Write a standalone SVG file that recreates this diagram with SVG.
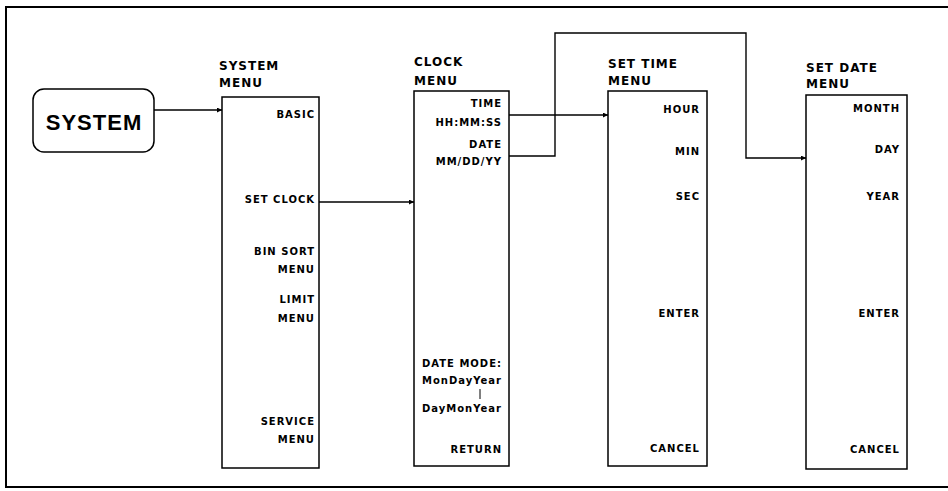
<svg xmlns="http://www.w3.org/2000/svg" width="948" height="491" viewBox="0 0 948 491">
<defs>
<marker id="arr" viewBox="0 0 10 10" refX="10" refY="5" markerWidth="7" markerHeight="5" markerUnits="userSpaceOnUse" orient="auto">
<path d="M0,0 L10,5 L0,10 z" fill="#000"/>
</marker>
<style>
.box{fill:#fff;stroke:#000;stroke-width:1.5}
.conn{fill:none;stroke:#000;stroke-width:1.4}
.title{font-family:"DejaVu Sans","Liberation Sans",sans-serif;font-weight:bold;font-size:12px;letter-spacing:1px;fill:#000}
.item{font-family:"DejaVu Sans","Liberation Sans",sans-serif;font-weight:bold;font-size:10px;letter-spacing:1px;fill:#000;text-anchor:end}
.big{font-family:"Liberation Sans",Arial,sans-serif;font-weight:bold;font-size:22px;letter-spacing:1px;fill:#000;text-anchor:middle}
</style>
</defs>
<rect width="948" height="491" fill="#fff"/>
<path d="M952,7 L6,7 L6,487 L952,487" fill="none" stroke="#000" stroke-width="2"/>

<g id="system">
<rect class="box" x="33" y="89" width="121" height="63" rx="11" ry="11"/>
<text class="big" x="94" y="130">SYSTEM</text>
</g>

<g id="system-menu">
<text class="title" x="219" y="70">SYSTEM</text>
<text class="title" x="219" y="87">MENU</text>
<rect class="box" x="222" y="97" width="97" height="371"/>
<text class="item" x="315" y="118">BASIC</text>
<text class="item" x="315" y="203">SET CLOCK</text>
<text class="item" x="315" y="255">BIN SORT</text>
<text class="item" x="315" y="273">MENU</text>
<text class="item" x="315" y="303">LIMIT</text>
<text class="item" x="315" y="322">MENU</text>
<text class="item" x="315" y="425">SERVICE</text>
<text class="item" x="315" y="443">MENU</text>
</g>

<g id="clock-menu">
<text class="title" x="414" y="66">CLOCK</text>
<text class="title" x="414" y="85">MENU</text>
<rect class="box" x="414" y="91" width="95" height="375"/>
<text class="item" x="502" y="107">TIME</text>
<text class="item" x="502" y="126">HH:MM:SS</text>
<text class="item" x="502" y="148">DATE</text>
<text class="item" x="502" y="165">MM/DD/YY</text>
<text class="item" x="502" y="367">DATE MODE:</text>
<text class="item" x="502" y="384">MonDayYear</text>
<line x1="480" y1="389" x2="480" y2="399" stroke="#000" stroke-width="1"/>
<text class="item" x="502" y="412">DayMonYear</text>
<text class="item" x="502" y="453">RETURN</text>
</g>

<g id="set-time-menu">
<text class="title" x="608" y="68">SET TIME</text>
<text class="title" x="608" y="85">MENU</text>
<rect class="box" x="608" y="91" width="99" height="375"/>
<text class="item" x="700" y="113">HOUR</text>
<text class="item" x="700" y="155">MIN</text>
<text class="item" x="700" y="200">SEC</text>
<text class="item" x="700" y="317">ENTER</text>
<text class="item" x="700" y="452">CANCEL</text>
</g>

<g id="set-date-menu">
<text class="title" x="806" y="72">SET DATE</text>
<text class="title" x="806" y="88">MENU</text>
<rect class="box" x="806" y="95" width="101" height="374"/>
<text class="item" x="900" y="112">MONTH</text>
<text class="item" x="900" y="153">DAY</text>
<text class="item" x="900" y="200">YEAR</text>
<text class="item" x="900" y="317">ENTER</text>
<text class="item" x="900" y="453">CANCEL</text>
</g>

<g id="connectors">
<line class="conn" x1="154" y1="110" x2="222" y2="110" marker-end="url(#arr)"/>
<line class="conn" x1="319" y1="202" x2="414" y2="202" marker-end="url(#arr)"/>
<line class="conn" x1="509" y1="115" x2="608" y2="115" marker-end="url(#arr)"/>
<path class="conn" d="M509,156 L555,156 L555,33 L746,33 L746,158 L806,158" marker-end="url(#arr)"/>
</g>
</svg>
